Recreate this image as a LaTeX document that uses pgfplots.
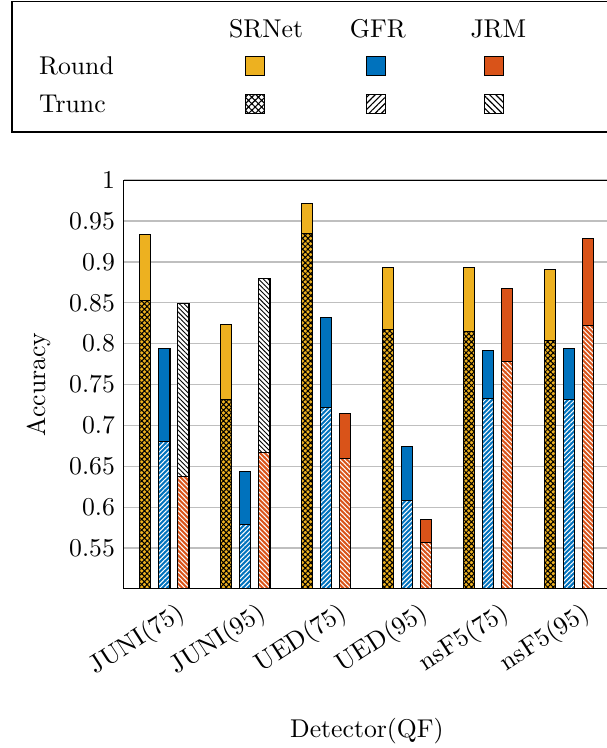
\documentclass[border=0pt]{standalone}
\usepackage{pgfplots}
\pgfplotsset{compat=1.18}
\usepackage{pgfplotstable}
\usetikzlibrary{patterns.meta}
\definecolor{cy}{RGB}{237,177,32}
\definecolor{cb}{RGB}{0,114,189}
\definecolor{co}{RGB}{217,83,25}

\pgfplotstableread{
x sr srt gfr gfrt jrm jrmt jrmm
0 0.934 0.853 0.794 0.680 0.637 0.849 0.637
1 0.823 0.732 0.644 0.579 0.667 0.880 0.667
2 0.971 0.935 0.832 0.722 0.714 0.660 0.660
3 0.893 0.817 0.674 0.608 0.585 0.557 0.557
4 0.893 0.815 0.792 0.733 0.867 0.778 0.778
5 0.891 0.804 0.794 0.732 0.929 0.822 0.822
}\data

\begin{document}
\begin{tikzpicture}
\begin{axis}[
  name=ax, at={(0,0)}, anchor=south west,
  scale only axis, width=189.1pt, height=159.1pt,
  xmin=-0.5, xmax=5.5, ymin=0.5, ymax=1,
  ytick={0.55,0.6,0.65,0.7,0.75,0.8,0.85,0.9,0.95,1},
  xtick={0,1,2,3,4,5},
  xticklabels={JUNI(75),JUNI(95),UED(75),UED(95),nsF5(75),nsF5(95)},
  xticklabel style={rotate=33, anchor=north east, xshift=4.5pt, yshift=-2.5pt},
  tick style={draw=none},
  ymajorgrids, grid style={black!25, line width=0.5pt},
  xlabel={Detector(QF)}, ylabel={Accuracy},
  xlabel style={at={(axis description cs:0.5,-0.347)}, anchor=center},
  ylabel style={at={(axis description cs:-0.176,0.5)}, anchor=center},
  every axis plot/.append style={ybar, bar width=4.3pt, draw=black, line width=0.4pt},
]
% SRNet
\addplot[bar shift=-7.4pt, fill=cy] table[x=x,y=sr]{\data};
\addplot[bar shift=-7.4pt, fill=cy, postaction={pattern={Hatch[angle=45,distance=1.5pt,line width=0.4pt]}, pattern color=black}] table[x=x,y=srt]{\data};
% GFR
\addplot[bar shift=0pt, fill=cb] table[x=x,y=gfr]{\data};
\addplot[bar shift=0pt, fill=cb, postaction={pattern={Lines[angle=45,distance=1.3pt,line width=0.4pt]}, pattern color=white}] table[x=x,y=gfrt]{\data};
% JRM
\addplot[bar shift=7.4pt, fill=white, postaction={pattern={Lines[angle=-45,distance=1.3pt,line width=0.35pt]}, pattern color=black}] table[x=x,y=jrmt]{\data};
\addplot[bar shift=7.4pt, fill=co] table[x=x,y=jrm]{\data};
\addplot[bar shift=7.4pt, fill=co, postaction={pattern={Lines[angle=-45,distance=1.3pt,line width=0.4pt]}, pattern color=white}] table[x=x,y=jrmm]{\data};
\end{axis}
% legend
\draw[line width=0.45pt] (-43.6pt,177.8pt) rectangle (205pt,228.6pt);
\node at (55.3pt,218pt) {SRNet};
\node at (98.8pt,218pt) {GFR};
\node at (145.7pt,218pt) {JRM};
\node[anchor=west, inner sep=0pt] at (-33.2pt,203.5pt) {Round};
\node[anchor=west, inner sep=0pt] at (-33.2pt,188.7pt) {Trunc};
\draw[fill=cy, line width=0.4pt] (47.2pt,199.7pt) rectangle ++(7.6pt,7.6pt);
\draw[fill=cb, line width=0.4pt] (94.3pt,199.7pt) rectangle ++(7.6pt,7.6pt);
\draw[fill=co, line width=0.4pt] (140.2pt,199.7pt) rectangle ++(7.6pt,7.6pt);
\draw[line width=0.4pt, pattern={Hatch[angle=45,distance=1.8pt,line width=0.45pt]}, pattern color=black] (47.2pt,184.9pt) rectangle ++(7.6pt,7.6pt);
\draw[line width=0.4pt, pattern={Lines[angle=45,distance=1.7pt,line width=0.45pt]}, pattern color=black] (94.3pt,184.9pt) rectangle ++(7.6pt,7.6pt);
\draw[line width=0.4pt, pattern={Lines[angle=-45,distance=1.7pt,line width=0.45pt]}, pattern color=black] (140.2pt,184.9pt) rectangle ++(7.6pt,7.6pt);
\pgfresetboundingbox
\path[use as bounding box] (-48.25pt,-61.9pt) rectangle (187.9pt,229.2pt);
\end{tikzpicture}
\end{document}
